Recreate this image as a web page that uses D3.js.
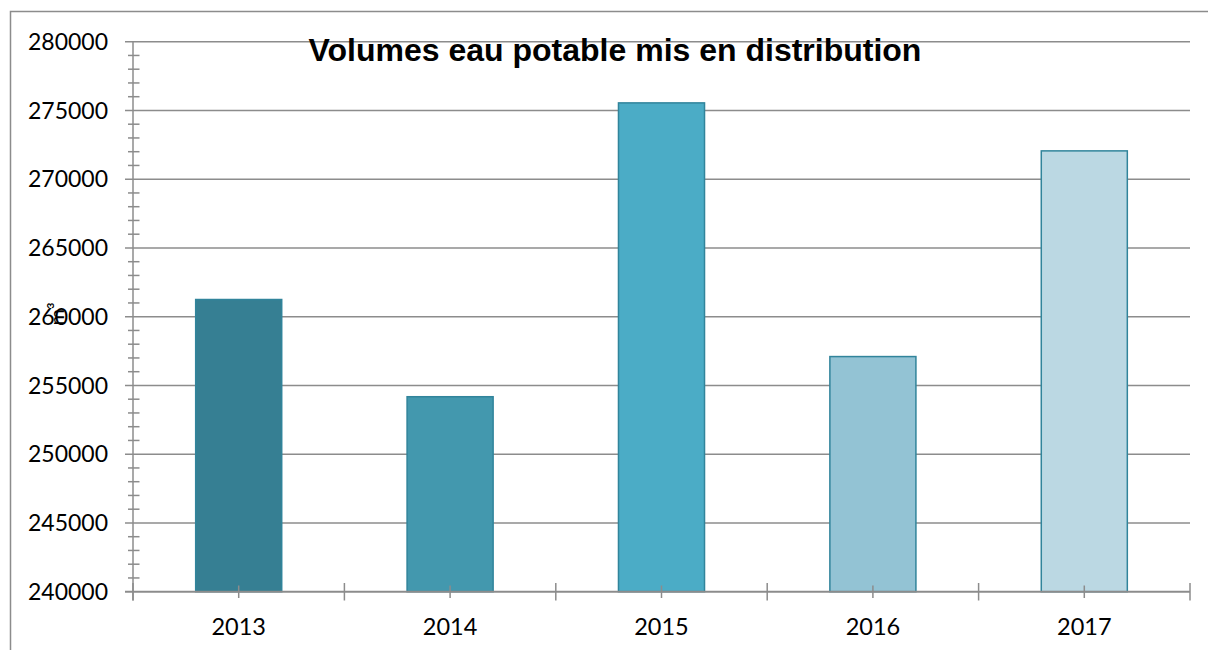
<!DOCTYPE html>
<html>
<head>
<meta charset="utf-8">
<script src="https://cdn.jsdelivr.net/npm/d3@7"></script>
<style>
  body { margin: 0; background: #fff; }
  svg { display: block; }
</style>
</head>
<body>
<script>
var years = ['2013', '2014', '2015', '2016', '2017'];
var volumes = [261250, 254180, 275550, 257100, 272060];
var barColors = ['#367f93', '#4398ae', '#4bacc6', '#93c3d4', '#bbd8e3'];
var yTicks = [240000, 245000, 250000, 255000, 260000, 265000, 270000, 275000, 280000];

var width = 1208, height = 650;
var plotLeft = 133, plotRight = 1190, plotTop = 41.7, plotBottom = 591.7;

var svg = d3.select('body')
    .append('svg')
    .attr('width', width)
    .attr('height', height);

// outer frame
svg.append('rect')
    .attr('x', 10.5).attr('y', 11.5)
    .attr('width', 1400).attr('height', 1000)
    .attr('fill', 'none')
    .attr('stroke', '#8c8c8c')
    .attr('stroke-width', 1.5);

var y = d3.scaleLinear().domain([240000, 280000]).range([plotBottom, plotTop]);
var x = d3.scaleBand().domain(years).range([plotLeft, plotRight])
    .paddingInner(0.593).paddingOuter(0.2965);

// gridlines
svg.selectAll('.grid')
    .data(yTicks.slice(1))
    .enter()
    .append('line')
    .attr('x1', 125).attr('x2', plotRight)
    .attr('y1', d => y(d)).attr('y2', d => y(d))
    .attr('stroke', '#8c8c8c')
    .attr('stroke-width', 1.5);

// bars
svg.selectAll('.bar')
    .data(volumes)
    .enter()
    .append('rect')
    .attr('x', (d, i) => x(years[i]))
    .attr('y', d => y(d))
    .attr('width', x.bandwidth())
    .attr('height', d => plotBottom - y(d))
    .attr('fill', (d, i) => barColors[i])
    .attr('stroke', '#31849b')
    .attr('stroke-width', 1.5);

// y minor ticks
var minor = d3.range(241000, 280000, 1000).filter(d => d % 5000 != 0);
svg.selectAll('.minor')
    .data(minor)
    .enter()
    .append('line')
    .attr('x1', 128).attr('x2', 139.5)
    .attr('y1', d => y(d)).attr('y2', d => y(d))
    .attr('stroke', '#8c8c8c')
    .attr('stroke-width', 1.5);

// y axis line
svg.append('line')
    .attr('x1', plotLeft).attr('x2', plotLeft)
    .attr('y1', plotTop).attr('y2', 600.5)
    .attr('stroke', '#8c8c8c')
    .attr('stroke-width', 1.5);

// x axis line
svg.append('line')
    .attr('x1', 125).attr('x2', plotRight)
    .attr('y1', plotBottom).attr('y2', plotBottom)
    .attr('stroke', '#8c8c8c')
    .attr('stroke-width', 2);

// x ticks: category boundaries and centers
var bounds = d3.range(years.length + 1).map(i => plotLeft + i * x.step());
svg.selectAll('.bt')
    .data(bounds)
    .enter()
    .append('line')
    .attr('x1', d => d).attr('x2', d => d)
    .attr('y1', 583).attr('y2', 600.5)
    .attr('stroke', '#8c8c8c')
    .attr('stroke-width', 1.5);

svg.selectAll('.ct')
    .data(years)
    .enter()
    .append('line')
    .attr('x1', d => x(d) + x.bandwidth() / 2).attr('x2', d => x(d) + x.bandwidth() / 2)
    .attr('y1', 585.5).attr('y2', 598)
    .attr('stroke', '#8c8c8c')
    .attr('stroke-width', 1.5);

// y labels
svg.selectAll('.yl')
    .data(yTicks)
    .enter()
    .append('text')
    .text(d => d)
    .attr('x', 108)
    .attr('y', d => y(d))
    .attr('dy', '0.36em')
    .attr('text-anchor', 'end')
    .attr('font-family', 'Lato, sans-serif')
    .attr('font-size', '23px')
    .attr('fill', '#000');

// x labels
svg.selectAll('.xl')
    .data(years)
    .enter()
    .append('text')
    .text(d => d)
    .attr('x', d => x(d) + x.bandwidth() / 2)
    .attr('y', 635)
    .attr('text-anchor', 'middle')
    .attr('font-family', 'Lato, sans-serif')
    .attr('font-size', '23.5px')
    .attr('fill', '#000');

// unit label
svg.append('text')
    .text('m³')
    .attr('transform', 'translate(64,314) rotate(-90)')
    .attr('text-anchor', 'middle')
    .attr('font-family', 'Lato, sans-serif')
    .attr('font-size', '20px')
    .attr('fill', '#000');

// title
svg.append('text')
    .text('Volumes eau potable mis en distribution')
    .attr('x', 615)
    .attr('y', 61)
    .attr('text-anchor', 'middle')
    .attr('font-family', 'Liberation Sans, Arial, sans-serif')
    .attr('font-weight', 'bold')
    .attr('font-size', '32px')
    .attr('fill', '#000');
</script>
</body>
</html>
